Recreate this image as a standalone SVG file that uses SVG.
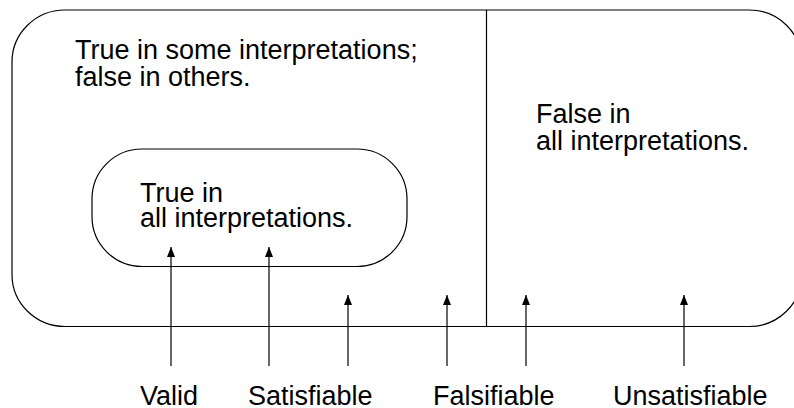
<svg xmlns="http://www.w3.org/2000/svg" width="794" height="408" viewBox="0 0 794 408">
<style>
.box{fill:none;stroke:#000;stroke-width:1.2}
.t{font-family:"Liberation Sans",Arial,sans-serif;font-size:27px;fill:#000}
.c{stroke:#000;stroke-width:1.2;fill:none}
</style>
<defs>
<marker id="ah" viewBox="0 0 10 8" refX="10" refY="4" markerWidth="10" markerHeight="8" markerUnits="userSpaceOnUse" orient="auto">
<path d="M0,0 L10,4 L0,8 z" fill="#000"/>
</marker>
</defs>
<rect width="794" height="408" fill="#fff"/>
<g id="outer">
<rect class="box" x="12" y="10" width="790" height="316.5" rx="53" ry="52"/>
<line class="box" x1="486.5" y1="10" x2="486.5" y2="326.5"/>
<text class="t" x="75" y="59">True in some interpretations;</text>
<text class="t" x="75" y="86">false in others.</text>
<text class="t" x="536" y="123">False in</text>
<text class="t" x="536" y="150">all interpretations.</text>
</g>
<g id="inner">
<rect class="box" x="92" y="149" width="315" height="117.5" rx="50" ry="50"/>
<text class="t" x="140" y="202">True in</text>
<text class="t" x="140" y="227">all interpretations.</text>
</g>
<g id="connectors">
<line class="c" x1="171" y1="366" x2="171" y2="247" marker-end="url(#ah)"/>
<line class="c" x1="269" y1="366" x2="269" y2="247" marker-end="url(#ah)"/>
<line class="c" x1="348" y1="366" x2="348" y2="295" marker-end="url(#ah)"/>
<line class="c" x1="447" y1="366" x2="447" y2="295" marker-end="url(#ah)"/>
<line class="c" x1="526" y1="366" x2="526" y2="295" marker-end="url(#ah)"/>
<line class="c" x1="684" y1="366" x2="684" y2="295" marker-end="url(#ah)"/>
</g>
<g id="labels">
<text class="t" x="140" y="405">Valid</text>
<text class="t" x="248" y="405">Satisfiable</text>
<text class="t" x="433" y="405">Falsifiable</text>
<text class="t" x="613" y="405">Unsatisfiable</text>
</g>
</svg>
